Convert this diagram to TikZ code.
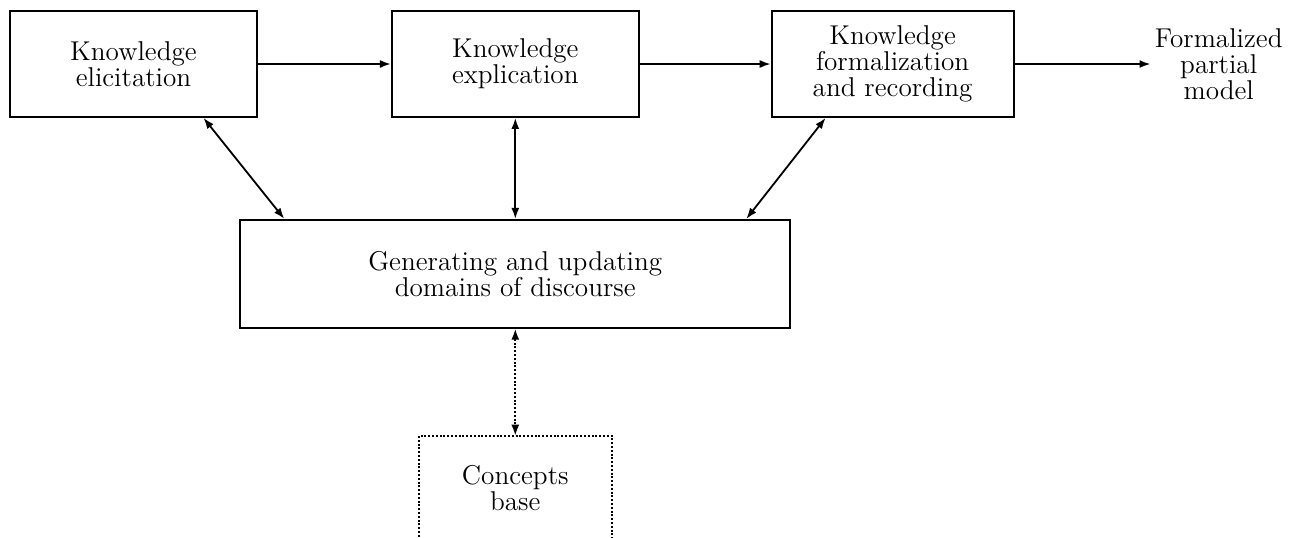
\documentclass[tikz,border=0pt]{standalone}
\usepackage{tikz}
\usetikzlibrary{arrows.meta,positioning,calc}
\tikzset{
  flow/.style={-{Latex[length=5.5pt,width=4pt]}, line width=0.9pt},
  twoway/.style={{Latex[length=5.5pt,width=4pt]}-{Latex[length=5.5pt,width=4pt]}, line width=0.9pt},
  dotflow/.style={twoway, dash pattern=on 1pt off 0.9pt},
  stagebox/.style={draw, line width=0.9pt, align=center, inner sep=3pt, minimum height=53pt,
    font=\fontsize{13.6}{13}\selectfont},
  outtext/.style={align=center, inner sep=2pt, font=\fontsize{13.6}{13}\selectfont}
}
\begin{document}
\begin{tikzpicture}
  \useasboundingbox (0,0) rectangle (648pt,-268.5pt);

  \node[stagebox, minimum width=123.5pt] (elic) at (66.75pt,-32pt)
    {Knowledge\\elicitation};
  \node[stagebox, minimum width=123.5pt, right=66.5pt of elic] (expl)
    {Knowledge\\explication};
  \node[stagebox, minimum width=121pt, right=65.5pt of expl] (form)
    {Knowledge\\formalization\\and recording};
  \node[outtext, right=68pt of form] (out)
    {Formalized\\partial\\model};
  \node[stagebox, minimum width=275pt, minimum height=54pt, below=50.5pt of expl] (gen)
    {Generating and updating\\domains of discourse};
  \node[outtext, minimum width=96pt, minimum height=52pt, below=53.5pt of gen] (cb)
    {Concepts\\base};
  % open-bottom dotted box
  \draw[line width=0.9pt, dash pattern=on 1pt off 0.9pt]
    (cb.south west) -- (cb.north west) -- (cb.north east) -- (cb.south east);

  \draw[flow] (elic) -- (expl);
  \draw[flow] (expl) -- (form);
  \draw[flow] (form) -- (out);
  \draw[twoway] ($(elic.south)+(35pt,0)$) -- ($(gen.north)+(-115.5pt,0)$);
  \draw[twoway] (expl.south) -- (expl.south |- gen.north);
  \draw[twoway] ($(form.south)+(-33.5pt,0)$) -- ($(gen.north)+(115.5pt,0)$);
  \draw[dotflow] (gen.south) -- (cb.north);
\end{tikzpicture}
\end{document}
